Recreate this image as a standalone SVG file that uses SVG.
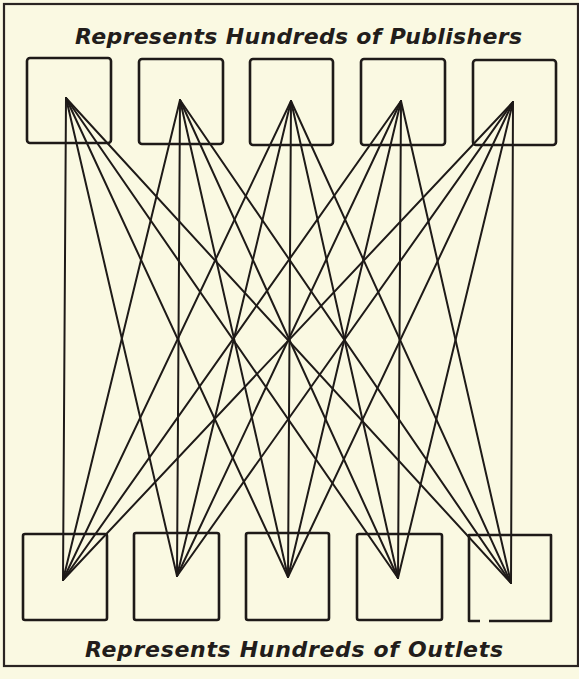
<svg xmlns="http://www.w3.org/2000/svg" width="579" height="679" viewBox="0 0 579 679">
<style>
.bg{fill:#FAF9E2}
.frame{fill:none;stroke:#2a2422;stroke-width:2.2}
.box{fill:none;stroke:#1e1a18;stroke-width:2.6;stroke-linejoin:round}
.conn line{stroke:#1e1a18;stroke-width:2;stroke-linecap:round}
.lbl{font-family:"DejaVu Sans","Liberation Sans",sans-serif;font-weight:bold;font-style:italic;font-size:22px;fill:#221d1b}
</style>
<rect class="bg" x="0" y="0" width="579" height="679"/>
<rect class="frame" x="4" y="4" width="574" height="662"/>
<text class="lbl" x="75" y="44" textLength="447" lengthAdjust="spacing">Represents Hundreds of Publishers</text>
<text class="lbl" x="85" y="657" textLength="418" lengthAdjust="spacing">Represents Hundreds of Outlets</text>
<g id="pub1"><rect class="box" x="27" y="58" width="84" height="85" rx="3"/></g>
<g id="pub2"><rect class="box" x="139" y="59" width="84" height="85" rx="3"/></g>
<g id="pub3"><rect class="box" x="250" y="59" width="83" height="86" rx="3"/></g>
<g id="pub4"><rect class="box" x="361" y="59" width="84" height="86" rx="3"/></g>
<g id="pub5"><rect class="box" x="473" y="60" width="83" height="85" rx="3"/></g>
<g id="out1"><rect class="box" x="23" y="534" width="84" height="86" rx="2"/></g>
<g id="out2"><rect class="box" x="134" y="533" width="85" height="87" rx="2"/></g>
<g id="out3"><rect class="box" x="246" y="533" width="83" height="87" rx="2"/></g>
<g id="out4"><rect class="box" x="357" y="534" width="85" height="86" rx="2"/></g>
<g id="out5"><path class="box" d="M489,621 H551 V535 H469 V621 H480"/></g>
<g class="conn" id="connectors">
<line x1="66" y1="98" x2="63" y2="580"/>
<line x1="66" y1="98" x2="177" y2="576"/>
<line x1="66" y1="98" x2="288" y2="577"/>
<line x1="66" y1="98" x2="398" y2="578"/>
<line x1="66" y1="98" x2="511" y2="583"/>
<line x1="180" y1="100" x2="63" y2="580"/>
<line x1="180" y1="100" x2="177" y2="576"/>
<line x1="180" y1="100" x2="288" y2="577"/>
<line x1="180" y1="100" x2="398" y2="578"/>
<line x1="180" y1="100" x2="511" y2="583"/>
<line x1="291" y1="101" x2="63" y2="580"/>
<line x1="291" y1="101" x2="177" y2="576"/>
<line x1="291" y1="101" x2="288" y2="577"/>
<line x1="291" y1="101" x2="398" y2="578"/>
<line x1="291" y1="101" x2="511" y2="583"/>
<line x1="401" y1="101" x2="63" y2="580"/>
<line x1="401" y1="101" x2="177" y2="576"/>
<line x1="401" y1="101" x2="288" y2="577"/>
<line x1="401" y1="101" x2="398" y2="578"/>
<line x1="401" y1="101" x2="511" y2="583"/>
<line x1="513" y1="102" x2="63" y2="580"/>
<line x1="513" y1="102" x2="177" y2="576"/>
<line x1="513" y1="102" x2="288" y2="577"/>
<line x1="513" y1="102" x2="398" y2="578"/>
<line x1="513" y1="102" x2="511" y2="583"/>
</g>
</svg>
